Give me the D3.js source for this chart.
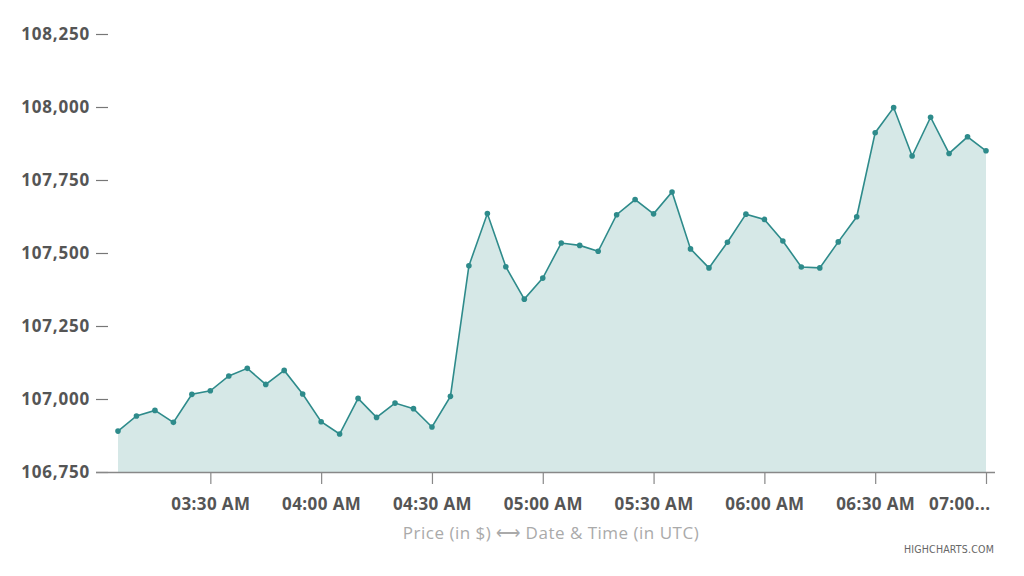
<!DOCTYPE html>
<html>
<head>
<meta charset="utf-8">
<script src="https://cdn.jsdelivr.net/npm/d3@7"></script>
<style>
  body { margin: 0; background: #fff; }
  svg { display: block; }
</style>
</head>
<body>
<script>
// times of each price reading (UTC)
const times = [
  '03:05', '03:10', '03:15', '03:20', '03:25', '03:30', '03:35', '03:40',
  '03:45', '03:50', '03:55', '04:00', '04:05', '04:10', '04:15', '04:20',
  '04:25', '04:30', '04:35', '04:40', '04:45', '04:50', '04:55', '05:00',
  '05:05', '05:10', '05:15', '05:20', '05:25', '05:30', '05:35', '05:40',
  '05:45', '05:50', '05:55', '06:00', '06:05', '06:10', '06:15', '06:20',
  '06:25', '06:30', '06:35', '06:40', '06:45', '06:50', '06:55', '07:00'
]
// price in $
const prices = [
  106890, 106942, 106961, 106920, 107016, 107028, 107079, 107105,
  107050, 107098, 107017, 106922, 106880, 107002, 106937, 106986,
  106967, 106904, 107009, 107456, 107635, 107453, 107342, 107414,
  107534, 107526, 107506, 107631, 107683, 107634, 107709, 107514,
  107449, 107537, 107633, 107615, 107541, 107452, 107449, 107538,
  107624, 107912, 107998, 107832, 107965, 107841, 107898, 107850
]
const xTicks = ['03:30', '04:00', '04:30', '05:00', '05:30', '06:00', '06:30', '07:00']
const yTicks = [106750, 107000, 107250, 107500, 107750, 108000, 108250]

const w = 1024
const h = 576
const font = "'Open Sans', sans-serif"

const parse = d3.utcParse('%H:%M')
const data = times.map((t, i) => ({ t: parse(t), v: prices[i] }))

const svg = d3.select('body')
    .append('svg')
    .attr('width', w)
    .attr('height', h)
    .style('font-family', font)

// scales
const x = d3.scaleUtc()
    .domain([parse('03:05'), parse('07:00')])
    .range([118, 986])
const y = d3.scaleLinear()
    .domain([106750, 108250])
    .range([472, 34])

// area + line
const area = d3.area()
    .x(d => x(d.t))
    .y0(y(106750))
    .y1(d => y(d.v))
const line = d3.line()
    .x(d => x(d.t))
    .y(d => y(d.v))

svg.append('path')
    .datum(data)
    .attr('d', area)
    .style('fill', '#d6e8e7')

svg.append('path')
    .datum(data)
    .attr('d', line)
    .style('fill', 'none')
    .style('stroke', '#2e8b8b')
    .style('stroke-width', 1.6)

svg.selectAll('circle.pt')
    .data(data)
    .enter()
    .append('circle')
    .attr('class', 'pt')
    .attr('cx', d => x(d.t))
    .attr('cy', d => y(d.v))
    .attr('r', 2.8)
    .style('fill', '#2e8b8b')

// y axis
const yAxis = svg.append('g')
    .attr('transform', 'translate(108,0)')
    .call(d3.axisLeft(y)
        .tickValues(yTicks)
        .tickSize(12)
        .tickPadding(6)
        .tickFormat(d3.format(',')))
yAxis.select('.domain').remove()
yAxis.selectAll('.tick line').style('stroke', '#777').style('stroke-width', 1.2)
yAxis.selectAll('.tick text')
    .style('font-family', font)
    .style('font-size', '17px')
    .style('font-weight', 700)
    .style('fill', '#555')
    .style('letter-spacing', '0.8px')

// x axis
const fmt = d3.utcFormat('%I:%M %p')
const xAxis = svg.append('g')
    .attr('transform', 'translate(0,472)')
    .call(d3.axisBottom(x)
        .tickValues(xTicks.map(parse))
        .tickSize(12)
        .tickPadding(14)
        .tickFormat((d, i) => i === xTicks.length - 1 ? fmt(d).slice(0, 5) + '...' : fmt(d)))
xAxis.select('.domain').remove()
xAxis.selectAll('.tick line').style('stroke', '#888').style('stroke-width', 1.2)
xAxis.selectAll('.tick text')
    .style('font-family', font)
    .style('font-size', '17px')
    .style('font-weight', 700)
    .style('fill', '#555')
    .style('letter-spacing', '0.4px')
xAxis.selectAll('.tick:last-child text')
    .attr('text-anchor', 'end')
    .attr('x', 4)

svg.append('line')
    .attr('x1', 96)
    .attr('x2', 995)
    .attr('y1', 472.5)
    .attr('y2', 472.5)
    .style('stroke', '#888')
    .style('stroke-width', 1.3)

// axis title
svg.append('text')
    .attr('x', 551)
    .attr('y', 539)
    .attr('text-anchor', 'middle')
    .style('font-size', '17px')
    .style('fill', '#aaa')
    .style('letter-spacing', '0.5px')
    .text('Price (in $) \u27F7 Date & Time (in UTC)')

// credits
svg.append('text')
    .attr('x', 994)
    .attr('y', 553)
    .attr('text-anchor', 'end')
    .style('font-family', "'DejaVu Sans Condensed', sans-serif")
    .style('font-size', '10.5px')
    .style('fill', '#666')
    .style('letter-spacing', '0.2px')
    .text('HIGHCHARTS.COM')
</script>
</body>
</html>
